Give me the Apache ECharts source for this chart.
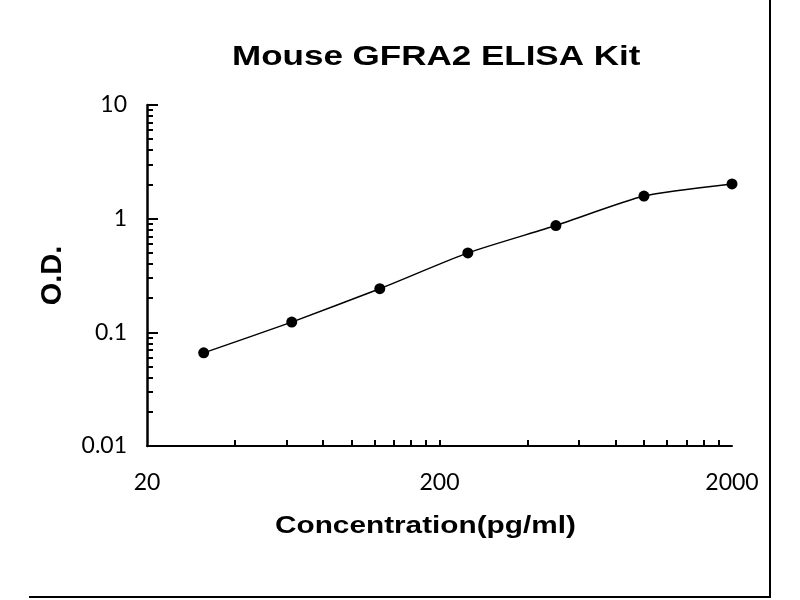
<!DOCTYPE html>
<html>
<head>
<meta charset="utf-8">
<title>Mouse GFRA2 ELISA Kit</title>
<script src="https://cdn.jsdelivr.net/npm/echarts@6/dist/echarts.min.js"></script>
<style>
    html, body { margin: 0; padding: 0; background: #ffffff; }
    #chart { width: 800px; height: 600px; }
</style>
</head>
<body>
<div id="chart"></div>
<script>
// standard curve
var concentration = [31.25, 62.5, 125, 250, 500, 1000, 2000];
var od = [0.066, 0.123, 0.242, 0.5, 0.87, 1.58, 2.02];

var xLabels = [20, 200, 2000];
var xTicks = [40, 60, 80, 100, 120, 140, 160, 180, 200,
    400, 600, 800, 1000, 1200, 1400, 1600, 1800];
var yLabels = [0.01, 0.1, 1, 10];
var yMinorTicks = [0.02, 0.03, 0.04, 0.05, 0.06, 0.07, 0.08, 0.09,
    0.2, 0.3, 0.4, 0.5, 0.6, 0.7, 0.8, 0.9,
    2, 3, 4, 5, 6, 7, 8, 9];

var myChart;
var option;

function buildPoints() {
    var pts = [];
    for (var i = 0; i < concentration.length; i++) {
        pts.push([concentration[i], od[i]]);
    }
    return pts;
}

function fmt(v) {
    return String(parseFloat(Number(v).toPrecision(6)));
}

window.onload = function () {
    myChart = echarts.init(document.getElementById('chart'));

    var labelFont = { color: '#000', fontFamily: 'Lato', fontSize: 23 };

    option = {
        backgroundColor: '#ffffff',
        animation: false,
        grid: { left: 147, right: 68, top: 105, bottom: 154, outerBoundsMode: 'none' },
        xAxis: [
            {
                type: 'log', logBase: 10, min: 20, max: 2000,
                axisLine: { lineStyle: { color: '#000', width: 2 } },
                axisTick: { inside: true, length: 6, lineStyle: { color: '#000', width: 2 }, customValues: xTicks },
                axisLabel: Object.assign({ margin: 25, customValues: xLabels, formatter: fmt }, labelFont),
                splitLine: { show: false }
            }
        ],
        yAxis: [
            {
                type: 'log', logBase: 10, min: 0.01, max: 10, position: 'left',
                name: 'O.D.', nameLocation: 'middle', nameGap: 80, nameRotate: 90,
                nameTextStyle: { color: '#000', fontFamily: 'Liberation Sans', fontWeight: 'bold', fontSize: 29 },
                axisLine: { lineStyle: { color: '#000', width: 2.5 } },
                axisTick: { inside: true, length: 11, lineStyle: { color: '#000', width: 2 }, customValues: yLabels },
                axisLabel: Object.assign({ margin: 20, customValues: yLabels, formatter: fmt }, labelFont),
                splitLine: { show: false }
            },
            {
                // minor ticks only
                type: 'log', logBase: 10, min: 0.01, max: 10, position: 'left', offset: 0,
                axisLine: { show: false },
                axisTick: { inside: true, length: 6, lineStyle: { color: '#000', width: 2 }, customValues: yMinorTicks },
                axisLabel: { show: false },
                splitLine: { show: false }
            }
        ],
        series: [
            {
                type: 'line',
                data: buildPoints(),
                smooth: 0.2,
                symbol: 'circle',
                symbolSize: 11,
                lineStyle: { color: '#000', width: 1.5 },
                itemStyle: { color: '#000' }
            }
        ],
        graphic: [
            {
                // the picture is a little stretched sideways
                type: 'text', x: 232, y: 43, scaleX: 1.25,
                style: { text: 'Mouse GFRA2 ELISA Kit', fill: '#000', font: 'bold 28px "Liberation Sans"', textVerticalAlign: 'top' }
            },
            {
                type: 'text', x: 275, y: 514, scaleX: 1.24,
                style: { text: 'Concentration(pg/ml)', fill: '#000', font: 'bold 24px "Liberation Sans"', textVerticalAlign: 'top' }
            },
            {
                type: 'polyline', silent: true,
                shape: { points: [[29, 597], [770, 597], [770, 0]] },
                style: { stroke: '#000', lineWidth: 2, fill: null }
            }
        ]
    };

    option && myChart.setOption(option);
};

window.onresize = function () {
    myChart.resize();
};
</script>
</body>
</html>
